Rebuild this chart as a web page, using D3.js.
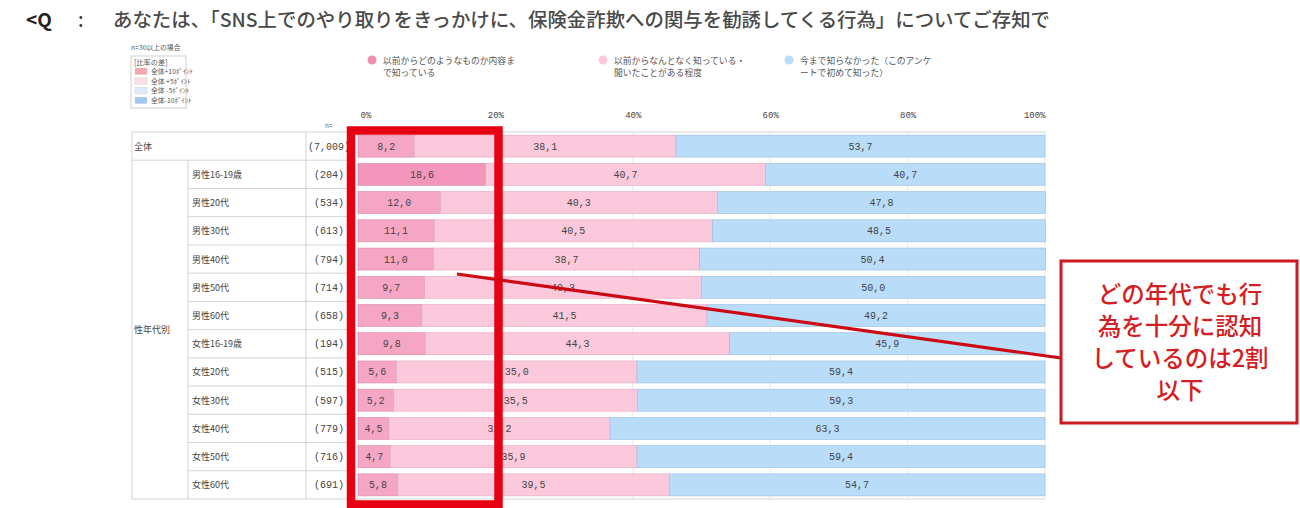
<!DOCTYPE html>
<html>
<head>
<meta charset="utf-8">
<script src="https://cdn.jsdelivr.net/npm/d3@7"></script>
<style>
  body { margin: 0; background: #fff; }
  text { font-family: "Noto Sans CJK JP", sans-serif; }
  .val { font-family: "Liberation Mono", "DejaVu Sans Mono", monospace; font-size: 10px; fill: #444; }
</style>
</head>
<body>
<svg id="chart"></svg>
<script>
// chart data
const categories = ['全体', '男性16-19歳', '男性20代', '男性30代', '男性40代', '男性50代', '男性60代',
    '女性16-19歳', '女性20代', '女性30代', '女性40代', '女性50代', '女性60代'];
const sampleSizes = ['(7,009)', '(204)', '(534)', '(613)', '(794)', '(714)', '(658)',
    '(194)', '(515)', '(597)', '(779)', '(716)', '(691)'];
const knownWell = [8.2, 18.6, 12.0, 11.1, 11.0, 9.7, 9.3, 9.8, 5.6, 5.2, 4.5, 4.7, 5.8];
const knownVaguely = [38.1, 40.7, 40.3, 40.5, 38.7, 40.3, 41.5, 44.3, 35.0, 35.5, 32.2, 35.9, 39.5];
const notKnown = [53.7, 40.7, 47.8, 48.5, 50.4, 50.0, 49.2, 45.9, 59.4, 59.3, 63.3, 59.4, 54.7];
const seriesNames = [
    ['以前からどのようなものか内容ま', 'で知っている'],
    ['以前からなんとなく知っている・', '聞いたことがある程度'],
    ['今まで知らなかった（このアンケ', 'ートで初めて知った）']
];
const tickValues = [0, 20, 40, 60, 80, 100];
const diffLegend = ['全体+10ﾎﾟｲﾝﾄ', '全体 +5ﾎﾟｲﾝﾄ', '全体 -5ﾎﾟｲﾝﾄ', '全体-10ﾎﾟｲﾝﾄ'];
const titleText = 'あなたは、「SNS上でのやり取りをきっかけに、保険金詐欺への関与を勧誘してくる行為」についてご存知で';
const calloutLines = ['どの年代でも行', '為を十分に認知', 'しているのは2割', '以下'];

const width = 1300;
const height = 508;

const seriesColors = ['#f6a6c5', '#fcc9dc', '#b9dcf9'];
const seriesStroke = ['#d88aa8', '#e3a9bf', '#98bde0'];
const highlightColor = '#f495bb';
const diffColors = ['#f5a6ae', '#fcdfe2', '#deebf9', '#9fc7f0'];

const svg = d3.select('#chart')
    .attr('width', width)
    .attr('height', height);

// title
svg.append('text')
    .attr('x', 26).attr('y', 27)
    .attr('font-size', 19).attr('font-weight', 700).attr('fill', '#222')
    .text('<Q');
svg.append('text')
    .attr('x', 78).attr('y', 27)
    .attr('font-size', 19).attr('font-weight', 500).attr('fill', '#444')
    .text(':');
svg.append('text')
    .attr('x', 113).attr('y', 27)
    .attr('font-size', 19).attr('font-weight', 500).attr('fill', '#4a4a4a')
    .attr('textLength', 937).attr('lengthAdjust', 'spacingAndGlyphs')
    .text(titleText);

// scales
const x = d3.scaleLinear().domain([0, 100]).range([358, 1045]);
const rows = d3.scaleBand().domain(categories).range([132, 499]);
const bars = d3.scaleBand().domain(categories).range([132, 499])
    .paddingInner(0.22).paddingOuter(0.11);

// difference legend (small box, top left)
const dl = svg.append('g').attr('font-size', 6.8).attr('fill', '#555');
dl.append('text').attr('x', 131).attr('y', 50).text('n=30以上の場合');
dl.append('rect').attr('x', 131).attr('y', 56).attr('width', 55).attr('height', 52)
    .attr('fill', '#fff').attr('stroke', '#bbb').attr('stroke-width', 0.7);
dl.append('text').attr('x', 134).attr('y', 65).attr('font-size', 7.2).text('[比率の差]');
diffLegend.forEach((t, i) => {
    dl.append('rect').attr('x', 135).attr('y', 68 + i * 9.7).attr('width', 12).attr('height', 6.5)
        .attr('fill', diffColors[i]).attr('stroke', '#ccc').attr('stroke-width', 0.4);
    dl.append('text').attr('x', 151).attr('y', 74 + i * 9.7).text(t);
});

// series legend
const legendX = [372, 603, 789];
seriesNames.forEach((lines, i) => {
    svg.append('circle').attr('cx', legendX[i]).attr('cy', 60).attr('r', 4.5)
        .attr('fill', i === 0 ? '#ef8fb3' : seriesColors[i]);
    lines.forEach((l, j) => {
        svg.append('text').attr('x', legendX[i] + 11).attr('y', 64 + j * 12)
            .attr('font-size', 8.8).attr('fill', '#555').text(l);
    });
});

// axis
const axis = svg.append('g')
    .attr('transform', 'translate(0,121)')
    .call(d3.axisTop(x).tickValues(tickValues).tickFormat(d => d + '%').tickSize(0));
axis.select('.domain').remove();
axis.selectAll('text')
    .attr('class', 'val')
    .attr('fill', '#555')
    .style('font-size', '9px')
    .attr('text-anchor', d => d === 0 ? 'start' : (d === 100 ? 'end' : 'middle'))
    .attr('dx', d => d === 0 ? 2 : 0);

svg.append('text').attr('x', 325).attr('y', 128).attr('font-size', 6.5).attr('fill', '#666').text('n=');

// gridlines
svg.append('g').selectAll('line')
    .data(tickValues)
    .join('line')
    .attr('x1', d => x(d)).attr('x2', d => x(d))
    .attr('y1', 132).attr('y2', 499)
    .attr('stroke', '#e4e4e4').attr('stroke-width', 0.8);

// table lines
const grid = svg.append('g').attr('stroke', '#cfcfcf').attr('stroke-width', 0.9);
grid.append('line').attr('x1', 132).attr('x2', x(100)).attr('y1', 132).attr('y2', 132);
grid.append('line').attr('x1', 132).attr('x2', x(100)).attr('y1', 499).attr('y2', 499);
grid.append('line').attr('x1', 132).attr('x2', 132).attr('y1', 132).attr('y2', 499);
grid.append('line').attr('x1', 306).attr('x2', 306).attr('y1', 132).attr('y2', 499);
grid.append('line').attr('x1', 188).attr('x2', 188).attr('y1', rows(categories[1])).attr('y2', 499);
categories.slice(1).forEach((c, i) => {
    grid.append('line')
        .attr('x1', i === 0 ? 132 : 188).attr('x2', 356)
        .attr('y1', rows(c)).attr('y2', rows(c));
});

// row labels
const labelG = svg.append('g').attr('font-size', 9).attr('fill', '#444');
categories.forEach((c, i) => {
    const cy = rows(c) + rows.bandwidth() / 2 + 3.5;
    labelG.append('text').attr('x', i === 0 ? 134 : 192).attr('y', cy).text(c);
    labelG.append('text').attr('x', 329).attr('y', cy).attr('text-anchor', 'middle')
        .attr('class', 'val').style('font-size', '10px').text(sampleSizes[i]);
});
labelG.append('text').attr('x', 134)
    .attr('y', (rows(categories[1]) + 499) / 2 + 3.5).text('性年代別');

// stacked bars
const seriesData = [knownWell, knownVaguely, notKnown];
const barG = svg.append('g');
categories.forEach((c, i) => {
    let start = 0;
    seriesData.forEach((s, k) => {
        const v = s[i];
        let fill = seriesColors[k];
        if (k === 0 && v - knownWell[0] >= 10) fill = highlightColor;
        barG.append('rect')
            .attr('x', x(start)).attr('y', bars(c))
            .attr('width', x(start + v) - x(start)).attr('height', bars.bandwidth())
            .attr('fill', fill).attr('stroke', seriesStroke[k]).attr('stroke-width', 0.6);
        barG.append('text')
            .attr('class', 'val')
            .attr('x', x(start + v / 2)).attr('y', bars(c) + bars.bandwidth() / 2 + 3.5)
            .attr('text-anchor', 'middle')
            .text(v.toFixed(1).replace('.', ','));
        start += v;
    });
});

// red highlight frame around the first column
svg.append('rect')
    .attr('x', 351).attr('y', 130.5).attr('width', 147.5).attr('height', 374)
    .attr('fill', 'none').attr('stroke', '#e60012').attr('stroke-width', 8.5);

// connector line and callout
svg.append('line')
    .attr('x1', 457).attr('y1', 274).attr('x2', 1061).attr('y2', 358)
    .attr('stroke', '#cc0a14').attr('stroke-width', 3.2);

svg.append('rect')
    .attr('x', 1061).attr('y', 261).attr('width', 236).attr('height', 162)
    .attr('fill', '#fff').attr('stroke', '#cc1a22').attr('stroke-width', 3);

calloutLines.forEach((l, i) => {
    svg.append('text')
        .attr('x', 1180).attr('y', 303 + i * 32)
        .attr('text-anchor', 'middle')
        .attr('font-size', 23.5).attr('font-weight', 500).attr('fill', '#d41e24')
        .text(l);
});
</script>
</body>
</html>
